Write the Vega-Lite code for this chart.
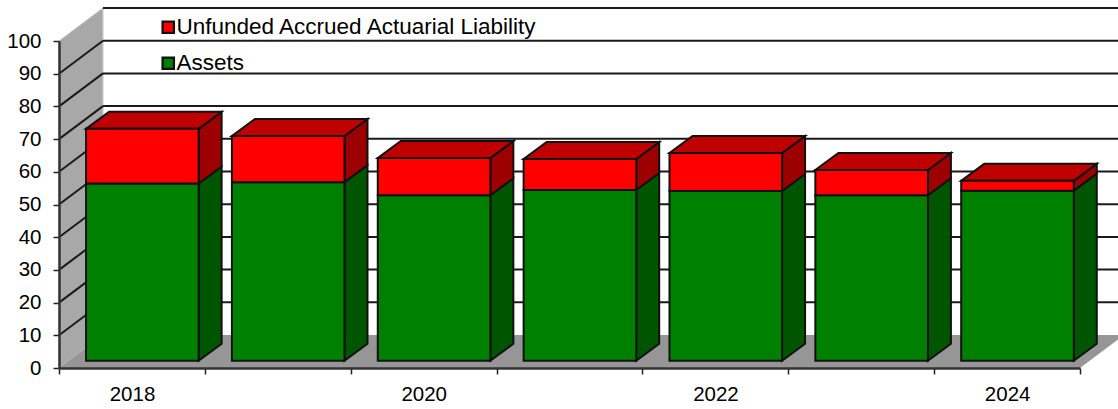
{
"$schema":"https://vega.github.io/schema/vega-lite/v6.json",
"width":1021,"height":327,
"autosize":{"type":"none"},
"padding":{"left":59,"top":41,"right":38,"bottom":41},
"background":"white",
"config":{"view":{"stroke":null},"font":"Liberation Sans","axis":{"labelOverlap":false},"axisY":{"tickCount":11}},
"datasets":{
"bars":[
{"year":2018,"assets":54.2,"uaal":16.7},
{"year":2019,"assets":54.6,"uaal":14.1},
{"year":2020,"assets":50.6,"uaal":11.4},
{"year":2021,"assets":52.2,"uaal":9.5},
{"year":2022,"assets":51.9,"uaal":11.6},
{"year":2023,"assets":50.6,"uaal":7.7},
{"year":2024,"assets":52.0,"uaal":3.0}
],
"grid":[{"v":10},{"v":20},{"v":30},{"v":40},{"v":50},{"v":60},{"v":70},{"v":80},{"v":90},{"v":100}],
"depth":[{"t":0},{"t":1}]
},
"layer":[
{"data":{"name":"depth"},
 "transform":[{"calculate":"2018+0.3014*datum.t","as":"x"},{"calculate":"10.09*datum.t","as":"y0"},{"calculate":"100+10.09*datum.t","as":"y1"}],
 "mark":{"type":"area","fill":"#a8a8a8","stroke":"#c4c4c4","strokeWidth":1,"clip":false},
 "encoding":{
  "x":{"field":"x","type":"quantitative","scale":{"domain":[2018,2025],"nice":false,"zero":false},
   "axis":{"title":null,"values":[2018,2019,2020,2021,2022,2023,2024,2025],"grid":false,"format":"d","labelExpr":"datum.value%2==0&&datum.value<2025?datum.label:''","labelOffset":73,"labelFontSize":20.5,"labelColor":"#000","labelPadding":10,"labelFlush":false,"labelOverlap":false,"labelBound":false,"tickColor":"#222","tickSize":6,"tickWidth":1.5,"domainColor":"#333","domainWidth":2.5,"zindex":1}},
  "y":{"field":"y0","type":"quantitative","scale":{"domain":[0,100],"nice":false,"zero":false},
   "axis":{"title":null,"values":[0,10,20,30,40,50,60,70,80,90,100],"grid":false,"labelFontSize":20.5,"labelColor":"#000","labelPadding":12,"labelOverlap":false,"labelBound":false,"labelFlush":false,"tickColor":"#222","tickSize":6,"tickWidth":1.5,"domainColor":"#333","domainWidth":2.5,"zindex":1}},
  "y2":{"field":"y1"}
 }},
{"data":{"name":"depth"},
 "transform":[{"calculate":"10.09*datum.t","as":"y"},{"calculate":"2018+0.3014*datum.t","as":"x0"},{"calculate":"2025+0.3014*datum.t","as":"x1"}],
 "mark":{"type":"area","orient":"horizontal","fill":"#969696","clip":false},
 "encoding":{
  "y":{"field":"y","type":"quantitative"},
  "x":{"field":"x0","type":"quantitative"},
  "x2":{"field":"x1"}
 }},
{"data":{"name":"grid"},
 "transform":[{"calculate":"2018.3014","as":"xa"},{"calculate":"2025.3","as":"xb"},{"calculate":"datum.v+10.09","as":"yb"}],
 "mark":{"type":"rule","color":"#1a1a1a","strokeWidth":2,"clip":false},
 "encoding":{"x":{"field":"xa","type":"quantitative"},"x2":{"field":"xb"},"y":{"field":"yb","type":"quantitative"}}},
{"data":{"name":"grid"},
 "transform":[{"filter":"datum.v<100"},{"calculate":"2018","as":"xa"},{"calculate":"2018.3014","as":"xb"},{"calculate":"datum.v+10.09","as":"yb"}],
 "mark":{"type":"rule","color":"#1a1a1a","strokeWidth":2,"clip":false},
 "encoding":{"x":{"field":"xa","type":"quantitative"},"x2":{"field":"xb"},"y":{"field":"v","type":"quantitative"},"y2":{"field":"yb"}}},
{"data":{"name":"bars"},
 "transform":[{"calculate":"[0,1]","as":"t"},{"flatten":["t"]},{"calculate":"datum.year+0.9575+0.1575*datum.t","as":"x"},{"calculate":"2.23+5.2*datum.t","as":"y0"},{"calculate":"2.23+datum.assets+5.2*datum.t","as":"y1"}],
 "mark":{"type":"area","fill":"#005500","stroke":"#111","strokeWidth":2,"clip":false},
 "encoding":{"x":{"field":"x","type":"quantitative"},"y":{"field":"y0","type":"quantitative"},"y2":{"field":"y1"},"detail":{"field":"year"}}},
{"data":{"name":"bars"},
 "transform":[{"calculate":"[0,1]","as":"t"},{"flatten":["t"]},{"calculate":"datum.year+0.9575+0.1575*datum.t","as":"x"},{"calculate":"2.23+datum.assets+5.2*datum.t","as":"y0"},{"calculate":"2.23+datum.assets+datum.uaal+5.2*datum.t","as":"y1"}],
 "mark":{"type":"area","fill":"#9c0000","stroke":"#111","strokeWidth":2,"clip":false},
 "encoding":{"x":{"field":"x","type":"quantitative"},"y":{"field":"y0","type":"quantitative"},"y2":{"field":"y1"},"detail":{"field":"year"}}},
{"data":{"name":"bars"},
 "transform":[{"calculate":"[0,1]","as":"t"},{"flatten":["t"]},{"calculate":"datum.year+0.1855+0.1575*datum.t","as":"x0"},{"calculate":"datum.year+0.9575+0.1575*datum.t","as":"x1"},{"calculate":"2.23+datum.assets+datum.uaal+5.2*datum.t","as":"y"}],
 "mark":{"type":"area","orient":"horizontal","fill":"#c00000","stroke":"#111","strokeWidth":2,"clip":false},
 "encoding":{"y":{"field":"y","type":"quantitative"},"x":{"field":"x0","type":"quantitative"},"x2":{"field":"x1"},"detail":{"field":"year"}}},
{"data":{"name":"bars"},
 "transform":[{"calculate":"datum.year+0.1855","as":"x0"},{"calculate":"datum.year+0.9575","as":"x1"},{"calculate":"2.23","as":"y0"},{"calculate":"2.23+datum.assets","as":"y1"}],
 "mark":{"type":"rect","stroke":"#111","strokeWidth":2,"clip":false},
 "encoding":{"x":{"field":"x0","type":"quantitative"},"x2":{"field":"x1"},"y":{"field":"y0","type":"quantitative"},"y2":{"field":"y1"},
  "color":{"datum":"Assets","type":"nominal","scale":{"domain":["Unfunded Accrued Actuarial Liability","Assets"],"range":["#ff0000","#008000"]},
   "legend":{"title":null,"orient":"none","legendX":98,"legendY":-25,"symbolType":"square","symbolSize":130,"symbolStrokeColor":"#111","symbolStrokeWidth":2.2,"symbolOpacity":1,"labelFontSize":22.5,"labelColor":"#000","labelOffset":-3,"rowPadding":13,"padding":0,"labelLimit":500,"values":["Unfunded Accrued Actuarial Liability","Assets"]}}}},
{"data":{"name":"bars"},
 "transform":[{"calculate":"datum.year+0.1855","as":"x0"},{"calculate":"datum.year+0.9575","as":"x1"},{"calculate":"2.23+datum.assets","as":"y0"},{"calculate":"2.23+datum.assets+datum.uaal","as":"y1"}],
 "mark":{"type":"rect","stroke":"#111","strokeWidth":2,"clip":false},
 "encoding":{"x":{"field":"x0","type":"quantitative"},"x2":{"field":"x1"},"y":{"field":"y0","type":"quantitative"},"y2":{"field":"y1"},
  "color":{"datum":"Unfunded Accrued Actuarial Liability","type":"nominal"}}}
]
}
